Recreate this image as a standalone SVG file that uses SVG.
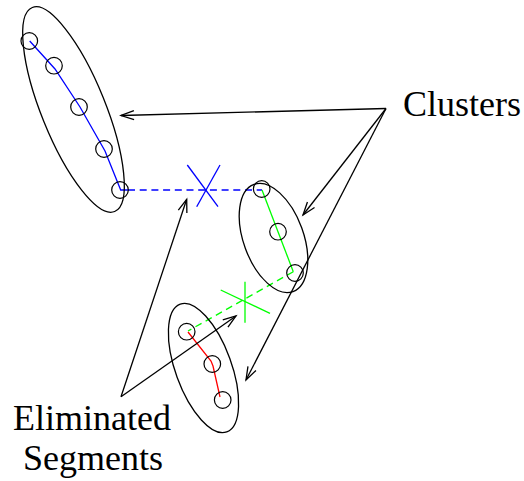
<svg xmlns="http://www.w3.org/2000/svg" width="524" height="481" viewBox="0 0 524 481">
<style>
.ell{fill:none;stroke:#000;stroke-width:1.3}
.pt{fill:none;stroke:#000;stroke-width:1.2}
.arr{fill:none;stroke:#000;stroke-width:1.3}
.lbl{font-family:"Liberation Serif","Times New Roman",serif;font-size:36px;fill:#000}
</style>
<defs>
<marker id="ah" markerUnits="userSpaceOnUse" markerWidth="20" markerHeight="14" refX="0" refY="0" viewBox="-14 -7 16 14" orient="auto" overflow="visible">
<path d="M-13,-4.5 L0,0 L-13,4.5" fill="none" stroke="#000" stroke-width="1.3"/>
</marker>
</defs>
<rect width="524" height="481" fill="#fff"/>
<g id="segments">
<polyline points="29.7,41 55,69 80,107 105,151 120.7,190 128,190" fill="none" stroke="#00f" stroke-width="1.3"/>
<line x1="128" y1="190" x2="262" y2="190" stroke="#00f" stroke-width="1.3" stroke-dasharray="7,4.7"/>
<line x1="187.3" y1="165" x2="218" y2="206.7" stroke="#00f" stroke-width="1.3"/>
<line x1="220" y1="165" x2="196.7" y2="206.7" stroke="#00f" stroke-width="1.3"/>
<line x1="262" y1="190" x2="293.3" y2="271.7" stroke="#0f0" stroke-width="1.3"/>
<line x1="293.3" y1="271.7" x2="188" y2="331" stroke="#0f0" stroke-width="1.3" stroke-dasharray="7,4.7"/>
<line x1="245" y1="281.7" x2="245" y2="322.7" stroke="#0f0" stroke-width="1.3"/>
<line x1="220.7" y1="290" x2="270" y2="313.3" stroke="#0f0" stroke-width="1.3"/>
<polyline points="188,332 211,361 213,366 220,397" fill="none" stroke="#f00" stroke-width="1.3"/>
</g>
<g id="cluster1">
<ellipse class="ell" cx="0" cy="0" rx="110" ry="32" transform="translate(73.5,109.5) rotate(68)"/>
<circle class="pt" cx="29.3" cy="41" r="8.3"/>
<circle class="pt" cx="54" cy="65.7" r="8.3"/>
<circle class="pt" cx="79" cy="107" r="8.3"/>
<circle class="pt" cx="104" cy="149" r="8.3"/>
<circle class="pt" cx="120" cy="190" r="8.3"/>
</g>
<g id="cluster2">
<ellipse class="ell" cx="0" cy="0" rx="57" ry="30" transform="translate(273.5,238) rotate(70)"/>
<circle class="pt" cx="261.7" cy="189" r="8.3"/>
<circle class="pt" cx="278" cy="231.7" r="8.3"/>
<circle class="pt" cx="295" cy="273" r="8.3"/>
</g>
<g id="cluster3">
<ellipse class="ell" cx="0" cy="0" rx="68" ry="28" transform="translate(203.5,368) rotate(70)"/>
<circle class="pt" cx="186.7" cy="331.7" r="8.3"/>
<circle class="pt" cx="212.3" cy="364" r="8.3"/>
<circle class="pt" cx="222.7" cy="400" r="8.3"/>
</g>
<g id="connectors">
<line class="arr" x1="386" y1="108.5" x2="121" y2="115.5" marker-end="url(#ah)"/>
<line class="arr" x1="386" y1="108.5" x2="303" y2="215" marker-end="url(#ah)"/>
<line class="arr" x1="386" y1="108.5" x2="246" y2="380" marker-end="url(#ah)"/>
<line class="arr" x1="121" y1="396.7" x2="186.7" y2="199.3" marker-end="url(#ah)"/>
<line class="arr" x1="121" y1="396.7" x2="236" y2="316" marker-end="url(#ah)"/>
</g>
<g id="labels">
<text class="lbl" x="403" y="116">Clusters</text>
<text class="lbl" x="13" y="430">Eliminated</text>
<text class="lbl" x="23" y="470">Segments</text>
</g>
</svg>
